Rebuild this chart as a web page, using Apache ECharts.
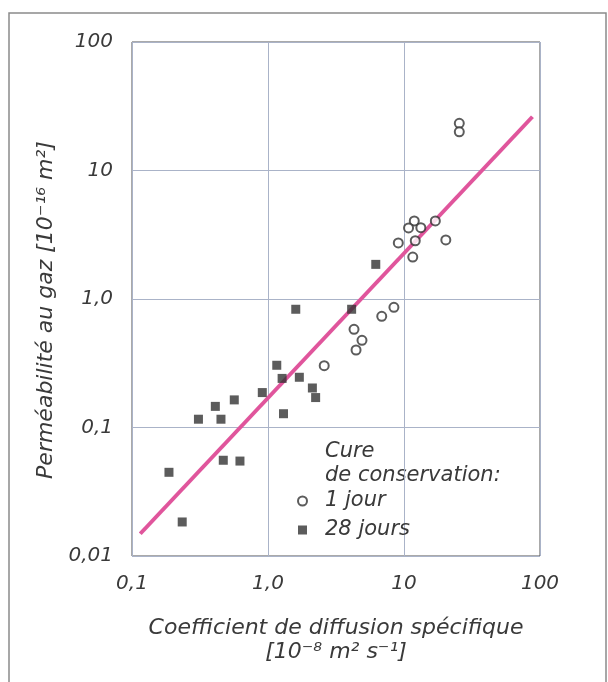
<!DOCTYPE html>
<html>
<head>
<meta charset="utf-8">
<script src="https://cdn.jsdelivr.net/npm/echarts@6/dist/echarts.min.js"></script>
<style>
html,body{margin:0;padding:0;background:#fff;}
#chart{width:608px;height:682px;}
</style>
</head>
<body>
<div id="chart"></div>
<script>
// Series "1 jour" (open circles)
var jour1X = [11.9, 10.8, 13.3, 17.0, 12.1, 9.08, 20.3, 11.6, 8.43, 6.86, 4.29, 4.91, 4.44, 2.59, 25.5, 25.5];
var jour1Y = [4.05, 3.57, 3.59, 4.05, 2.84, 2.73, 2.88, 2.12, 0.861, 0.733, 0.581, 0.477, 0.401, 0.303, 23.3, 20.0];
// Series "28 jours" (filled squares)
var jours28X = [6.20, 1.60, 4.12, 1.16, 1.27, 1.70, 2.12, 2.24, 0.908, 0.565, 0.410, 0.308, 0.451, 1.30, 0.187, 0.469, 0.622, 0.234];
var jours28Y = [1.86, 0.832, 0.832, 0.305, 0.241, 0.246, 0.203, 0.171, 0.187, 0.164, 0.146, 0.116, 0.116, 0.128, 0.0448, 0.0556, 0.0548, 0.0184];
// Regression line end points
var fitX = [0.115, 88];
var fitY = [0.0149, 26.2];
// Tick labels
var xTickLabels = ['0,1', '1,0', '10', '100'];
var yTickLabels = ['0,01', '0,1', '1,0', '10', '100'];

function pairs(xs, ys) { return xs.map(function (x, i) { return [x, ys[i]]; }); }

var FONT = '"DejaVu Sans", "Noto Sans", sans-serif';
var TXT = '#3a3a3a';
var chart = echarts.init(document.getElementById('chart'), null, {renderer: 'canvas'});
chart.setOption({
  backgroundColor: '#fff',
  animation: false,
  grid: {left: 132, right: 68, top: 42, bottom: 126, show: true, borderColor: '#555', borderWidth: 1, backgroundColor: 'transparent'},
  xAxis: {
    type: 'log', logBase: 10, min: 0.1, max: 100,
    axisLine: {show: false}, axisTick: {show: false}, minorTick: {show: false},
    splitLine: {show: true, lineStyle: {color: '#aab3c8', width: 1}},
    axisLabel: {
      margin: 18, fontFamily: FONT, fontStyle: 'italic', fontSize: 20, color: TXT,
      formatter: function (v) { return xTickLabels[Math.round(Math.log10(v)) + 1]; }
    },
    name: 'Coefficient de diffusion spécifique\n[10⁻⁸ m² s⁻¹]',
    nameLocation: 'middle', nameGap: 60,
    nameTextStyle: {fontFamily: FONT, fontStyle: 'italic', fontSize: 22, color: TXT, lineHeight: 24}
  },
  yAxis: {
    type: 'log', logBase: 10, min: 0.01, max: 100,
    axisLine: {show: false}, axisTick: {show: false}, minorTick: {show: false},
    splitLine: {show: true, lineStyle: {color: '#aab3c8', width: 1}},
    axisLabel: {
      margin: 19, fontFamily: FONT, fontStyle: 'italic', fontSize: 20, color: TXT,
      formatter: function (v) { return yTickLabels[Math.round(Math.log10(v)) + 2]; }
    },
    name: 'Perméabilité au gaz [10⁻¹⁶ m²]',
    nameLocation: 'middle', nameGap: 72,
    nameTextStyle: {fontFamily: FONT, fontStyle: 'italic', fontSize: 22, color: TXT, padding: [0, 22, 0, 0]}
  },
  legend: {
    orient: 'vertical', left: 297, top: 489, padding: 0, itemWidth: 9, itemHeight: 9, itemGap: 5,
    data: ['1 jour', '28 jours'],
    textStyle: {fontFamily: FONT, fontStyle: 'italic', fontSize: 21, color: TXT, lineHeight: 24, padding: [0, 0, 0, 13]}
  },
  graphic: [
    {type: 'rect', shape: {x: 9, y: 13, width: 597, height: 700}, style: {fill: 'none', stroke: '#8a8a8a', lineWidth: 1.5}, z: 100, silent: true},
    {type: 'text', left: 325, top: 440, style: {text: 'Cure\nde conservation:', fontFamily: FONT, fontStyle: 'italic', fontSize: 21, fill: TXT, lineHeight: 24}}
  ],
  series: [
    {
      name: 'fit', type: 'line', data: pairs(fitX, fitY), showSymbol: false, symbol: 'none',
      lineStyle: {color: '#e0559c', width: 4}, z: 1, silent: true
    },
    {
      name: '1 jour', type: 'scatter', data: pairs(jour1X, jour1Y), symbol: 'circle', symbolSize: 9,
      itemStyle: {color: '#fff', borderColor: '#333', borderWidth: 2}, z: 3
    },
    {
      name: '28 jours', type: 'scatter', data: pairs(jours28X, jours28Y), symbol: 'rect', symbolSize: 9,
      itemStyle: {color: '#333'}, z: 3
    }
  ]
});
</script>
</body>
</html>
